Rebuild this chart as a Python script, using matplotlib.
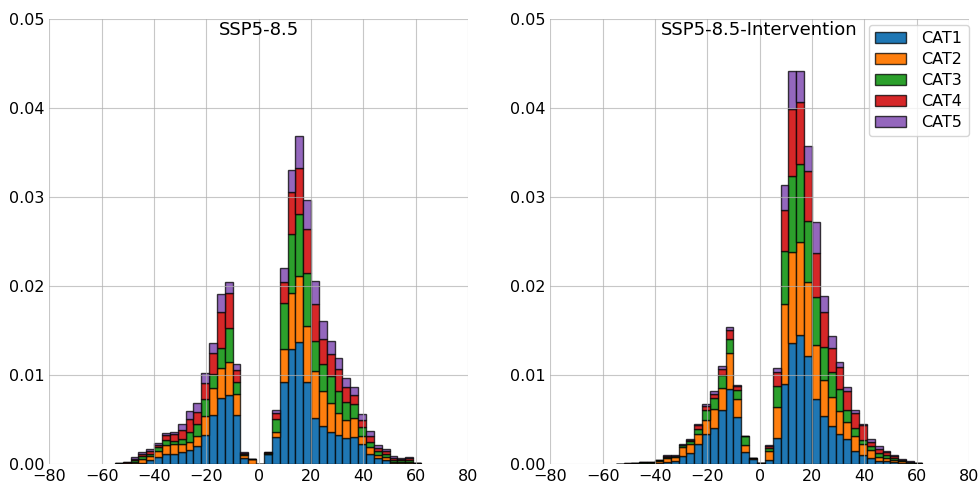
import numpy as np
import matplotlib
matplotlib.use("Agg")
import matplotlib.pyplot as plt

# Left edges of the histogram bins (width 3)
bin_left = list(range(-55, 60, 3))
bin_width = 3

categories = ["CAT1", "CAT2", "CAT3", "CAT4", "CAT5"]
colors = ["#1f77b4", "#ff7f0e", "#2ca02c", "#d62728", "#9467bd"]
titles = ["SSP5-8.5", "SSP5-8.5-Intervention"]

# values in units of 1e-3 (density), one list per category, aligned with bin_left
ssp_cat1 = [0.02, 0.05, 0.10, 0.15, 0.45, 0.80, 1.10, 1.10, 1.40, 1.57, 2.00, 3.26, 5.50, 7.40, 7.80, 5.50, 0.64, 0.00, 0.00,
            1.10, 3.00, 9.25, 12.90, 13.67, 9.25, 5.20, 4.30, 3.60, 3.30, 2.90, 3.00, 2.20, 1.10, 0.64, 0.45, 0.15, 0.10, 0.10, 0.02]
ssp_cat2 = [0.02, 0.05, 0.15, 0.40, 0.45, 0.67, 1.00, 1.10, 0.90, 0.94, 1.20, 2.10, 3.00, 3.40, 3.70, 2.40, 0.37, 0.60, 0.00,
            0.05, 0.64, 3.70, 6.30, 7.50, 6.25, 5.25, 3.90, 3.30, 2.40, 2.00, 2.20, 1.00, 0.80, 0.37, 0.37, 0.10, 0.10, 0.10, 0.10]
ssp_cat3 = [0.02, 0.05, 0.15, 0.30, 0.26, 0.40, 0.56, 0.40, 0.50, 1.10, 1.30, 1.90, 1.60, 2.20, 3.80, 1.30, 0.11, 0.00, 0.00,
            0.05, 1.40, 5.10, 6.60, 6.90, 6.00, 3.35, 3.00, 3.00, 2.50, 2.10, 1.50, 1.00, 0.56, 0.50, 0.30, 0.20, 0.20, 0.30, 0.02]
ssp_cat4 = [0.02, 0.05, 0.15, 0.26, 0.30, 0.26, 0.56, 0.75, 1.00, 1.40, 1.30, 1.80, 2.40, 4.10, 3.90, 1.40, 0.15, 0.00, 0.00,
            0.10, 0.70, 2.40, 4.80, 5.20, 4.90, 4.20, 2.90, 2.50, 2.50, 1.60, 1.00, 0.70, 0.64, 0.26, 0.30, 0.20, 0.15, 0.15, 0.01]
ssp_cat5 = [0.02, 0.05, 0.20, 0.20, 0.20, 0.20, 0.26, 0.20, 0.70, 0.94, 1.00, 1.20, 1.10, 2.00, 1.20, 0.60, 0.08, 0.00, 0.00,
            0.03, 0.30, 1.60, 2.40, 3.60, 3.30, 2.55, 2.00, 1.40, 1.20, 1.10, 0.90, 0.75, 0.60, 0.34, 0.26, 0.20, 0.10, 0.10, 0.00]

int_cat1 = [0.00, 0.02, 0.03, 0.10, 0.10, 0.12, 0.26, 0.30, 0.90, 1.20, 2.20, 3.40, 4.10, 6.10, 8.40, 5.30, 1.30, 0.60, 0.08,
            0.50, 2.90, 9.00, 13.56, 14.46, 12.13, 7.30, 5.40, 4.30, 3.40, 2.80, 1.50, 1.00, 0.65, 0.30, 0.30, 0.20, 0.10, 0.05, 0.05]
int_cat2 = [0.00, 0.02, 0.10, 0.05, 0.05, 0.26, 0.41, 0.45, 1.00, 1.05, 1.16, 1.57, 2.06, 2.47, 4.10, 2.00, 0.80, 0.02, 0.02,
            1.00, 3.50, 9.00, 10.30, 10.45, 8.30, 6.10, 4.00, 3.20, 2.50, 1.90, 1.60, 1.20, 0.90, 0.50, 0.40, 0.30, 0.20, 0.10, 0.05]
int_cat3 = [0.00, 0.01, 0.01, 0.03, 0.03, 0.05, 0.15, 0.11, 0.19, 0.34, 0.56, 1.05, 1.20, 1.39, 1.60, 1.05, 1.00, 0.00, 0.00,
            0.26, 2.40, 5.90, 8.50, 8.80, 6.90, 5.40, 3.70, 2.80, 2.50, 1.40, 0.90, 0.45, 0.45, 0.40, 0.30, 0.20, 0.10, 0.05, 0.00]
int_cat4 = [0.00, 0.01, 0.01, 0.02, 0.02, 0.05, 0.07, 0.05, 0.07, 0.11, 0.41, 0.52, 0.56, 0.75, 1.00, 0.41, 0.02, 0.00, 0.00,
            0.26, 1.50, 4.60, 7.50, 7.00, 5.60, 4.90, 4.00, 2.70, 2.50, 2.10, 1.70, 1.70, 0.50, 0.50, 0.30, 0.20, 0.10, 0.05, 0.00]
int_cat5 = [0.00, 0.01, 0.00, 0.00, 0.00, 0.02, 0.07, 0.05, 0.04, 0.07, 0.22, 0.19, 0.26, 0.34, 0.30, 0.15, 0.00, 0.00, 0.00,
            0.10, 0.50, 2.80, 4.30, 3.50, 2.80, 3.50, 1.80, 1.40, 0.60, 0.45, 0.40, 0.20, 0.26, 0.30, 0.20, 0.10, 0.10, 0.05, 0.00]

panels = [
    [ssp_cat1, ssp_cat2, ssp_cat3, ssp_cat4, ssp_cat5],
    [int_cat1, int_cat2, int_cat3, int_cat4, int_cat5],
]

W, H = 979, 487
fig = plt.figure(figsize=(W / 100, H / 100), dpi=100)
ax_rects = [
    [49.5 / W, (H - 464) / H, (468 - 49.5) / W, (464 - 19) / H],
    [550.3 / W, (H - 464) / H, (969 - 550.3) / W, (464 - 19) / H],
]

for p, (rect, series) in enumerate(zip(ax_rects, panels)):
    ax = fig.add_axes(rect)
    bottom = np.zeros(len(bin_left))
    for name, col, vals in zip(categories, colors, series):
        v = np.array(vals) * 1e-3
        ax.bar(bin_left, v, width=bin_width, align="edge", bottom=bottom,
               color=col, edgecolor=(0, 0, 0, 0.75), linewidth=1.0, label=name)
        bottom = bottom + v
    ax.set_xlim(-80, 80)
    ax.set_ylim(0, 0.05)
    ax.set_xticks(np.arange(-80, 81, 20))
    ax.set_yticks(np.arange(0, 0.0501, 0.01))
    ax.yaxis.set_major_formatter(matplotlib.ticker.FormatStrFormatter("%.2f"))
    ax.grid(True, color="#b0b0b0", linewidth=0.8, alpha=0.7)
    for s in ax.spines.values():
        s.set_visible(False)
    ax.tick_params(length=0, labelsize=11.5, pad=3.5)
    ax.text(0.5, 0.996, titles[p], transform=ax.transAxes, ha="center", va="top", fontsize=13)
    if p == 1:
        ax.legend(loc="upper right", bbox_to_anchor=(1.0, 0.987), borderaxespad=0, fontsize=11.5,
                  labelspacing=0.37, handlelength=1.9, handletextpad=1.0)

fig.savefig("out.png", dpi=100)
